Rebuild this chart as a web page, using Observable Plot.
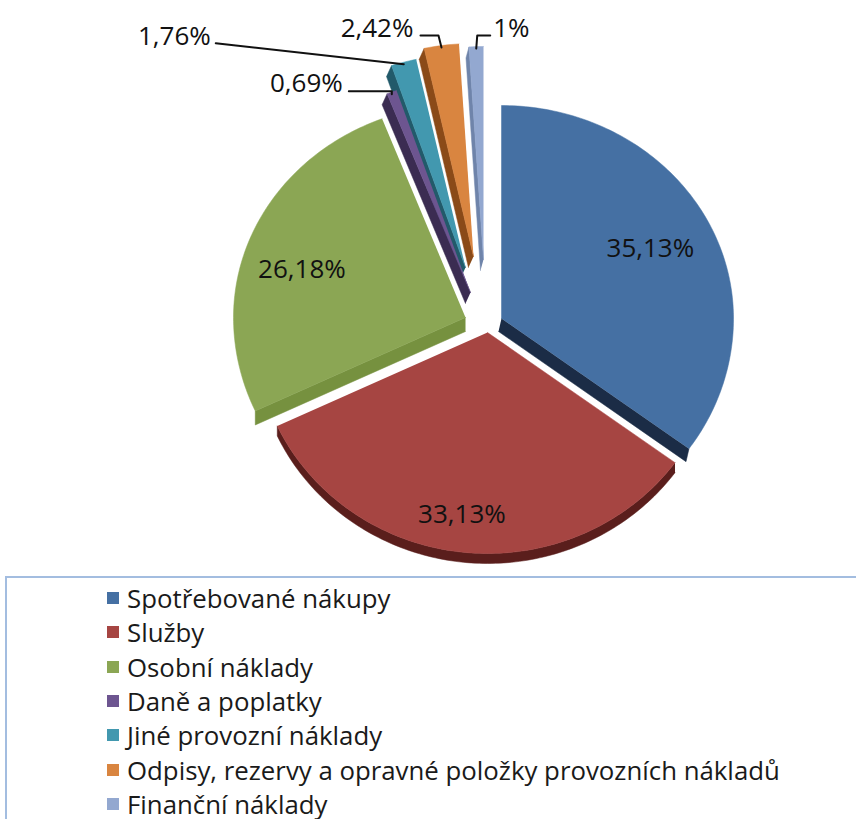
<!DOCTYPE html>
<html><head><meta charset="utf-8">
<script src="https://cdn.jsdelivr.net/npm/d3@7"></script>
<script src="https://cdn.jsdelivr.net/npm/@observablehq/plot@0.6"></script>
<style>
body{margin:0;background:#fff;font-family:"Open Sans",sans-serif;}
#chart{height:576px;}
#legend{margin-left:5px;border-top:2px solid #a3bde0;border-left:2px solid #a3bde0;padding-top:3px;height:240px;}
.item{height:34.3px;display:flex;align-items:center;font-size:25.8px;color:#1a1a1a;padding-left:100px;white-space:nowrap;}
.sw{width:12px;height:12px;margin-right:8px;flex:none;}
</style></head><body><div id="chart"></div><div id="legend"></div>
<script>
// ---- data ----
const categories = ["Spotřebované nákupy","Služby","Osobní náklady","Daně a poplatky","Jiné provozní náklady","Odpisy, rezervy a opravné položky provozních nákladů","Finanční náklady"];
const values = [35.13, 33.13, 26.18, 0.69, 1.76, 2.42, 1];
const valueLabels = ["35,13%","33,13%","26,18%","0,69%","1,76%","2,42%","1%"];

// ---- styling / layout ----
const colors = ["#4570a3","#a64542","#8ba654","#6d5590","#4298af","#d98540","#93a8d0"];
const sideColors = ["#1b2c46","#5a1e1c","#76913f","#3b2c52","#225a6a","#8a4a18","#6f84aa"];
const W = 856, H = 576;
const CX = 485, CY = 318, RX = 232, RY_BACK = 213, RY_FRONT = 221;
const explode = [[16,0],[2,14],[-20,-1],[-15,-26],[-20,-51],[-12,-62],[-2,-59]];
// visible 3D side faces per slice: which edge is extruded and by what vector
const sideFaces = [
  [{edge:"end", v:[-3,13]}],
  [{edge:"arc", v:[0,10]}],
  [{edge:"start", v:[0,14]}],
  [{edge:"start", v:[-5,11]}],
  [{edge:"start", v:[-5,11]}],
  [{edge:"start", v:[-5,11]}],
  [{edge:"start", v:[-3,11]}]
];
const LABEL_FONT = "Open Sans", LABEL_SIZE = 26;
const innerLabel = [{f:0.72,dx:0,dy:0},{f:0.83,dx:-7,dy:0},{f:0.76,dx:0,dy:13}];
const outerLabel = {3:{dx:-43,dy:-1,knee:0,anchor:"end",tx:-6},
                    4:{dx:-188,dy:-19,knee:null,anchor:"end",tx:-5},
                    5:{dx:-21,dy:-10,knee:-3,anchor:"end",tx:-7},
                    6:{dx:14,dy:-11,knee:1,anchor:"start",tx:3}};
const drawOrder = [6,5,4,3,2,0,1];

const arcs = d3.pie().sort(null).startAngle(0).endAngle(2*Math.PI)(values);

function pt(i, a, f=1) {
  const ax = CX + explode[i][0], ay = CY + explode[i][1];
  const c = Math.cos(a), s = Math.sin(a);
  const ry = c > 0 ? RY_BACK : RY_FRONT;
  return [ax + RX*s*f, ay - ry*c*f];
}
function arcPoints(i) {
  const {startAngle:a0, endAngle:a1} = arcs[i];
  const n = Math.max(2, Math.ceil((a1-a0)/(Math.PI/180)));
  const pts = [];
  for (let k=0;k<=n;k++) pts.push(pt(i, a0 + (a1-a0)*k/n));
  return pts;
}

const marks = [];
for (const i of drawOrder) {
  const apex = pt(i, 0, 0);
  const arc = arcPoints(i);
  const poly = [apex, ...arc];
  const side = [];
  sideFaces[i].forEach((face, j) => {
    const edge = face.edge === "start" ? [apex, arc[0]]
               : face.edge === "end" ? [apex, arc[arc.length-1]]
               : arc;
    const [vx, vy] = face.v;
    const ring = [...edge, ...edge.slice().reverse().map(([x,y]) => [x+vx, y+vy])];
    ring.forEach(([x,y]) => side.push({x, y, z:j}));
  });
  marks.push(Plot.line(side, {x:"x", y:"y", z:"z", fill: sideColors[i], stroke: sideColors[i], strokeWidth:0.5, curve:"linear"}));
  marks.push(Plot.line(poly.map(([x,y])=>({x,y})), {x:"x", y:"y", fill: colors[i], stroke: colors[i], strokeWidth:0.5, curve:"linear"}));
}

// inner labels
const inner = [0,1,2].map(i => {
  const m = (arcs[i].startAngle + arcs[i].endAngle)/2;
  const [x,y] = pt(i, m, innerLabel[i].f);
  return {x: x+innerLabel[i].dx, y: y+innerLabel[i].dy, t: valueLabels[i]};
});
marks.push(Plot.text(inner, {x:"x", y:"y", text:"t", fontSize:LABEL_SIZE, fontFamily:LABEL_FONT, fill:"#111"}));

// outer labels with leader lines
const leaders = [], outerTexts = [];
for (const key of Object.keys(outerLabel)) {
  const i = +key, L = outerLabel[i];
  const m = (arcs[i].startAngle + arcs[i].endAngle)/2;
  const top = pt(i, m);
  const start = [top[0]+L.dx, top[1]+L.dy];
  const path = [start];
  if (L.knee !== null) path.push([top[0]+L.knee, start[1]]);
  path.push([top[0], top[1]+2]);
  path.forEach(([x,y]) => leaders.push({x, y, z:i}));
  outerTexts.push({x:start[0]+L.tx, y:start[1]-7, t:valueLabels[i], anchor:L.anchor});
}
marks.push(Plot.line(leaders, {x:"x", y:"y", z:"z", stroke:"#111", strokeWidth:2, curve:"linear"}));
marks.push(Plot.text(outerTexts.filter(d=>d.anchor==="end"), {x:"x", y:"y", text:"t", textAnchor:"end", fontSize:LABEL_SIZE, fontFamily:LABEL_FONT, fill:"#111"}));
marks.push(Plot.text(outerTexts.filter(d=>d.anchor==="start"), {x:"x", y:"y", text:"t", textAnchor:"start", fontSize:LABEL_SIZE, fontFamily:LABEL_FONT, fill:"#111"}));

const chart = Plot.plot({
  width: W, height: H, margin: 0,
  x: {domain:[0,W], range:[0,W], axis:null},
  y: {domain:[0,H], range:[0,H], axis:null},
  style: {background:"#fff"},
  marks
});
document.getElementById("chart").appendChild(chart);

const legend = document.getElementById("legend");
categories.forEach((c,i) => {
  const row = document.createElement("div");
  row.className = "item";
  const sw = document.createElement("span");
  sw.className = "sw"; sw.style.background = colors[i];
  const tx = document.createElement("span");
  tx.textContent = c;
  row.appendChild(sw); row.appendChild(tx);
  legend.appendChild(row);
});
</script></body></html>
